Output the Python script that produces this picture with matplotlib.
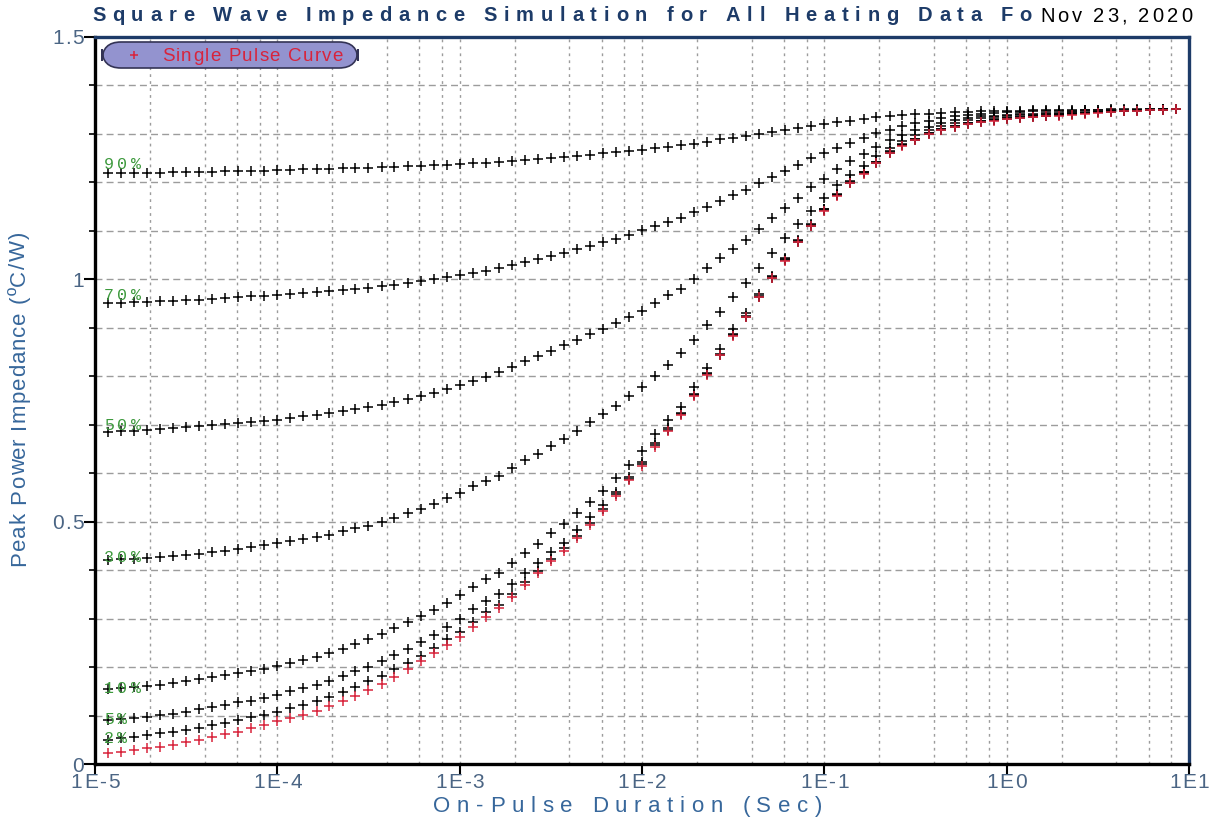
import matplotlib
matplotlib.use("Agg")
import matplotlib.pyplot as plt
from matplotlib import font_manager, ft2font
from matplotlib.font_manager import FontProperties
from matplotlib.patches import FancyBboxPatch
from matplotlib.lines import Line2D
from matplotlib.ticker import FixedLocator, NullLocator, NullFormatter

W, H, DPI = 1219, 821, 100

# ---------------------------------------------------------------- data
durations = [
    1.18e-5, 1.39e-5, 1.64e-5, 1.93e-5, 2.28e-5, 2.68e-5, 3.16e-5, 3.73e-5, 4.39e-5, 5.18e-5, 6.11e-5, 7.20e-5, 8.48e-5, 1.00e-4,
    1.18e-4, 1.39e-4, 1.64e-4, 1.93e-4, 2.28e-4, 2.68e-4, 3.16e-4, 3.73e-4, 4.39e-4, 5.18e-4, 6.11e-4, 7.20e-4, 8.48e-4, 1.00e-3,
    1.18e-3, 1.39e-3, 1.64e-3, 1.93e-3, 2.28e-3, 2.68e-3, 3.16e-3, 3.73e-3, 4.39e-3, 5.18e-3, 6.11e-3, 7.20e-3, 8.48e-3, 1.00e-2,
    1.18e-2, 1.39e-2, 1.64e-2, 1.93e-2, 2.28e-2, 2.68e-2, 3.16e-2, 3.73e-2, 4.39e-2, 5.18e-2, 6.11e-2, 7.20e-2, 8.48e-2, 1.00e-1,
    1.18e-1, 1.39e-1, 1.64e-1, 1.93e-1, 2.28e-1, 2.68e-1, 3.16e-1, 3.73e-1, 4.39e-1, 5.18e-1, 6.11e-1, 7.20e-1, 8.48e-1, 1.00e0,
    1.18e0, 1.39e0, 1.64e0, 1.93e0, 2.28e0, 2.68e0, 3.16e0, 3.73e0, 4.39e0, 5.18e0, 6.11e0, 7.20e0, 8.48e0,
]

single_pulse = [
    0.022, 0.025, 0.028, 0.032, 0.036, 0.040, 0.045, 0.050, 0.055, 0.061, 0.067, 0.074, 0.081, 0.088,
    0.095, 0.102, 0.110, 0.119, 0.129, 0.140, 0.152, 0.165, 0.180, 0.196, 0.212, 0.229, 0.246, 0.263,
    0.283, 0.304, 0.322, 0.345, 0.369, 0.394, 0.418, 0.440, 0.466, 0.493, 0.522, 0.552, 0.585, 0.615,
    0.655, 0.688, 0.720, 0.759, 0.803, 0.843, 0.884, 0.922, 0.963, 1.002, 1.038, 1.076, 1.110, 1.142,
    1.172, 1.198, 1.218, 1.239, 1.260, 1.276, 1.287, 1.299, 1.308, 1.314, 1.320, 1.324, 1.327, 1.330,
    1.332, 1.334, 1.336, 1.338, 1.340, 1.342, 1.344, 1.346, 1.347, 1.348, 1.349, 1.350, 1.351,
]

duty_2 = [
    0.050, 0.053, 0.056, 0.059, 0.063, 0.067, 0.070, 0.075, 0.080, 0.085, 0.091, 0.096, 0.101, 0.108,
    0.115, 0.122, 0.129, 0.138, 0.149, 0.159, 0.171, 0.182, 0.195, 0.208, 0.223, 0.239, 0.257, 0.273,
    0.294, 0.313, 0.329, 0.351, 0.376, 0.399, 0.423, 0.445, 0.471, 0.498, 0.527, 0.557, 0.589, 0.619,
    0.658, 0.690, 0.722, 0.761, 0.804, 0.844, 0.885, 0.923, 0.964, 1.003, 1.039, 1.077, 1.111, 1.143,
    1.173, 1.199, 1.219, 1.240, 1.261, 1.277, 1.288, 1.300, 1.309, 1.315, 1.321, 1.325, 1.328, 1.331,
    1.333, 1.335, 1.337, 1.339, 1.341, 1.343, 1.345, 1.347, 1.348, 1.349, 1.350, 1.351, 1.352,
]

duty_5 = [
    0.090, 0.092, 0.095, 0.098, 0.101, 0.104, 0.108, 0.113, 0.118, 0.122, 0.127, 0.131, 0.136, 0.143,
    0.151, 0.156, 0.162, 0.172, 0.182, 0.191, 0.201, 0.212, 0.225, 0.237, 0.252, 0.267, 0.283, 0.299,
    0.319, 0.336, 0.351, 0.371, 0.395, 0.414, 0.438, 0.457, 0.483, 0.510, 0.534, 0.562, 0.593, 0.624,
    0.662, 0.694, 0.725, 0.763, 0.806, 0.846, 0.887, 0.925, 0.966, 1.005, 1.041, 1.079, 1.113, 1.145,
    1.175, 1.201, 1.221, 1.242, 1.263, 1.278, 1.289, 1.301, 1.310, 1.316, 1.322, 1.326, 1.329, 1.332,
    1.334, 1.336, 1.338, 1.340, 1.342, 1.344, 1.346, 1.347, 1.348, 1.349, 1.350, 1.351, 1.352,
]

duty_10 = [
    0.155, 0.156, 0.158, 0.161, 0.164, 0.168, 0.172, 0.175, 0.179, 0.183, 0.188, 0.192, 0.197, 0.203,
    0.209, 0.215, 0.221, 0.228, 0.237, 0.247, 0.257, 0.268, 0.280, 0.292, 0.305, 0.318, 0.332, 0.349,
    0.366, 0.381, 0.395, 0.415, 0.436, 0.454, 0.476, 0.495, 0.517, 0.541, 0.563, 0.591, 0.617, 0.646,
    0.681, 0.710, 0.737, 0.777, 0.818, 0.856, 0.897, 0.931, 0.970, 1.007, 1.043, 1.081, 1.115, 1.146,
    1.176, 1.202, 1.222, 1.243, 1.264, 1.279, 1.290, 1.302, 1.311, 1.317, 1.323, 1.327, 1.330, 1.333,
    1.335, 1.337, 1.339, 1.341, 1.342, 1.344, 1.346, 1.347, 1.348, 1.349, 1.350, 1.351, 1.352,
]

duty_30 = [
    0.421, 0.422, 0.423, 0.425, 0.427, 0.429, 0.431, 0.434, 0.437, 0.440, 0.444, 0.448, 0.452, 0.456,
    0.461, 0.464, 0.468, 0.473, 0.480, 0.486, 0.492, 0.500, 0.508, 0.517, 0.526, 0.536, 0.548, 0.559,
    0.573, 0.584, 0.595, 0.610, 0.627, 0.640, 0.656, 0.670, 0.688, 0.705, 0.722, 0.739, 0.759, 0.778,
    0.800, 0.823, 0.847, 0.875, 0.906, 0.933, 0.964, 0.992, 1.023, 1.055, 1.085, 1.114, 1.140, 1.167,
    1.195, 1.215, 1.234, 1.254, 1.270, 1.286, 1.298, 1.308, 1.316, 1.322, 1.328, 1.332, 1.335, 1.337,
    1.339, 1.340, 1.341, 1.342, 1.343, 1.344, 1.345, 1.346, 1.347, 1.348, 1.349, 1.350, 1.351,
]

duty_50 = [
    0.686, 0.687, 0.688, 0.689, 0.691, 0.693, 0.695, 0.697, 0.699, 0.701, 0.703, 0.705, 0.707, 0.710,
    0.714, 0.717, 0.720, 0.724, 0.728, 0.732, 0.736, 0.741, 0.747, 0.753, 0.759, 0.766, 0.774, 0.781,
    0.791, 0.799, 0.809, 0.820, 0.831, 0.842, 0.853, 0.864, 0.875, 0.887, 0.898, 0.910, 0.923, 0.935,
    0.952, 0.968, 0.981, 1.000, 1.023, 1.043, 1.062, 1.081, 1.104, 1.126, 1.148, 1.167, 1.190, 1.208,
    1.228, 1.245, 1.258, 1.274, 1.287, 1.298, 1.308, 1.314, 1.322, 1.328, 1.332, 1.336, 1.338, 1.340,
    1.341, 1.342, 1.343, 1.344, 1.345, 1.346, 1.346, 1.347, 1.348, 1.349, 1.350, 1.350, 1.351,
]

duty_70 = [
    0.952, 0.952, 0.953, 0.954, 0.955, 0.956, 0.957, 0.958, 0.959, 0.961, 0.963, 0.965, 0.966, 0.968,
    0.970, 0.972, 0.973, 0.975, 0.977, 0.980, 0.983, 0.986, 0.989, 0.992, 0.996, 1.000, 1.004, 1.009,
    1.014, 1.018, 1.023, 1.029, 1.035, 1.042, 1.049, 1.055, 1.062, 1.069, 1.076, 1.084, 1.092, 1.101,
    1.110, 1.119, 1.127, 1.138, 1.150, 1.162, 1.174, 1.184, 1.199, 1.212, 1.223, 1.236, 1.250, 1.260,
    1.272, 1.282, 1.292, 1.301, 1.309, 1.316, 1.323, 1.327, 1.333, 1.337, 1.340, 1.342, 1.344, 1.345,
    1.346, 1.347, 1.347, 1.348, 1.348, 1.349, 1.349, 1.350, 1.350, 1.350, 1.351, 1.351, 1.352,
]

duty_90 = [
    1.219, 1.219, 1.220, 1.220, 1.220, 1.221, 1.221, 1.222, 1.222, 1.223, 1.223, 1.224, 1.224, 1.225,
    1.226, 1.227, 1.228, 1.228, 1.229, 1.230, 1.230, 1.231, 1.232, 1.233, 1.234, 1.235, 1.236, 1.238,
    1.240, 1.241, 1.243, 1.245, 1.247, 1.249, 1.250, 1.252, 1.255, 1.257, 1.260, 1.262, 1.265, 1.267,
    1.271, 1.274, 1.277, 1.280, 1.284, 1.289, 1.292, 1.296, 1.300, 1.303, 1.308, 1.312, 1.316, 1.320,
    1.324, 1.327, 1.330, 1.334, 1.337, 1.339, 1.341, 1.342, 1.344, 1.345, 1.346, 1.347, 1.347, 1.348,
    1.348, 1.349, 1.349, 1.349, 1.350, 1.350, 1.350, 1.351, 1.351, 1.351, 1.351, 1.352, 1.352,
]

duty_labels = ["90%", "70%", "50%", "30%", "10%", "5%", "2%"]
duty_series = [duty_90, duty_70, duty_50, duty_30, duty_10, duty_5, duty_2]

x_tick_values = [1e-5, 1e-4, 1e-3, 1e-2, 1e-1, 1e0, 1e1]
x_tick_labels = ["1E-5", "1E-4", "1E-3", "1E-2", "1E-1", "1E0", "1E1"]
y_tick_values = [0, 0.5, 1, 1.5]
y_tick_labels = ["0", "0.5", "1", "1.5"]

title_text = "Square Wave Impedance Simulation for All Heating Data Fo"
date_text = "Nov 23, 2020"
x_label = "On-Pulse Duration (Sec)"
y_label = "Peak Power Impedance (\u00baC/W)"
legend_label = "Single Pulse Curve"

# ---------------------------------------------------------------- colours
NAVY = "#1d3b68"
AXIS_BLUE = "#37679b"
TICK_COLOR = "#4b6584"
GRID = "#9c9c9c"
RED = "#d8243c"
GREEN = "#3d9a3d"

# ---------------------------------------------------------------- helpers
_fonts = {}


def advances(text, family, size, weight):
    key = (family, weight)
    if key not in _fonts:
        path = font_manager.findfont(FontProperties(family=family, weight=weight))
        _fonts[key] = ft2font.FT2Font(path)
    font = _fonts[key]
    font.set_size(size, DPI)
    return [font.load_char(ord(c)).linearHoriAdvance / 65536.0 for c in text]


def tracked(fig, text, x, y_top, size, color, family="Liberation Sans",
            weight="normal", tracking=0.0, span=None, align="left",
            vertical=False, zorder=5):
    """Draw letter-spaced text; x / y_top are pixel positions of the baseline."""
    adv = advances(text, family, size, weight)
    if span is not None and len(text) > 1:
        tracking = (span - sum(adv)) / (len(text) - 1)
    total = sum(adv) + tracking * (len(text) - 1)
    start = {"left": 0.0, "center": -total / 2.0, "right": -total}[align]
    pos = start
    for ch, a in zip(text, adv):
        if not ch.isspace():
            if vertical:
                px, py = x, (H - y_top) + pos
            else:
                px, py = x + pos, H - y_top
            fig.text(px / W, py / H, ch, fontsize=size, color=color,
                     family=family, weight=weight, ha="left", va="baseline",
                     rotation=90 if vertical else 0, rotation_mode="anchor",
                     zorder=zorder)
        pos += a + tracking
    return tracking


# ---------------------------------------------------------------- figure
fig = plt.figure(figsize=(W / DPI, H / DPI), dpi=DPI, facecolor="white")
ax_left, ax_right, ax_top, ax_bottom = 95, 1189, 37, 764
ax = fig.add_axes([ax_left / W, (H - ax_bottom) / H,
                   (ax_right - ax_left) / W, (ax_bottom - ax_top) / H])
ax.set_xscale("log")
ax.set_xlim(1e-5, 1e1)
ax.set_ylim(0, 1.5)

# grid: dashed horizontals every 0.1, dotted verticals at 2,4,6,8 and decades
for i in range(1, 15):
    ax.axhline(i / 10.0, color=GRID, lw=1.0, ls=(0, (5, 3)), zorder=1)
for d in range(-5, 1):
    for m in (2, 4, 6, 8):
        ax.axvline(m * 10.0 ** d, color=GRID, lw=1.0, ls=(0, (2, 3)), zorder=1)
    if d > -5:
        ax.axvline(10.0 ** d, color=GRID, lw=1.0, ls=(0, (2, 3)), zorder=1)

# curves
for series in duty_series:
    ax.plot(durations, series, ls="none", marker="+", ms=6.5, mew=1.1,
            color="black", zorder=3)
ax.plot(durations, single_pulse, ls="none", marker="+", ms=6.5, mew=1.1,
        color=RED, zorder=4)

# spines and ticks
for side in ("left", "bottom"):
    ax.spines[side].set_color("black")
    ax.spines[side].set_linewidth(2.4)
for side in ("top", "right"):
    ax.spines[side].set_color(NAVY)
    ax.spines[side].set_linewidth(2.4)

ax.xaxis.set_major_locator(FixedLocator(x_tick_values))
ax.xaxis.set_minor_locator(NullLocator())
ax.yaxis.set_major_locator(FixedLocator(y_tick_values))
ax.yaxis.set_minor_locator(FixedLocator([i / 10.0 for i in range(16)]))
ax.xaxis.set_major_formatter(NullFormatter())
ax.yaxis.set_major_formatter(NullFormatter())
ax.yaxis.set_minor_formatter(NullFormatter())
ax.tick_params(axis="both", which="major", direction="out", length=8,
               width=1.5, color="black")
ax.tick_params(axis="y", which="minor", direction="out", length=4,
               width=1.2, color="black")
ax.tick_params(top=False, right=False)

fig.canvas.draw()
to_px = ax.transData.transform

# tick labels
TICK_SIZE = 15.0
for v, lab in zip(x_tick_values, x_tick_labels):
    px = to_px((v, 0.5))[0]
    tracked(fig, lab, px, 788, TICK_SIZE, TICK_COLOR, tracking=1.5, align="center")
for v, lab in zip(y_tick_values, y_tick_labels):
    py = H - to_px((1e-3, v))[1]
    tracked(fig, lab, 84, py + 7.5, TICK_SIZE, TICK_COLOR, tracking=1.5, align="right")

# axis titles
tracked(fig, x_label, 433, 812, 16.0, AXIS_BLUE, span=389)
tracked(fig, y_label, 25, 566, 16.0, AXIS_BLUE, span=334, vertical=True)

# chart title, with the date set right after it
TITLE_SIZE = 14.5
tracked(fig, title_text, 92, 21, TITLE_SIZE, NAVY, weight="bold", span=940)
tracked(fig, date_text, 1192, 22, 14.5, "black", align="right", span=152)

# duty-cycle labels next to the first point of each curve
label_rise = [10, 9, 7.5, 4, 2, 2.4, 2.8]
for lab, series, rise in zip(duty_labels, duty_series, label_rise):
    px, py = to_px((durations[0], series[0]))
    tracked(fig, lab, 104, (H - py) - rise + 6, 12.0, GREEN,
            family="Liberation Mono", tracking=3.5)

# legend capsule
box = FancyBboxPatch((102 / W, (H - 68) / H), (358 - 102) / W, 26 / H,
                     boxstyle="round,pad=0,rounding_size=0.0155",
                     transform=fig.transFigure, facecolor="#9393cf",
                     edgecolor="#333355", lw=1.2, zorder=6,
                     mutation_aspect=W / H)
fig.patches.append(box)
fig.lines.append(Line2D([134 / W], [(H - 55) / H], marker="+", ms=6, mew=1.1,
                        color=RED, transform=fig.transFigure, zorder=7))
tracked(fig, legend_label, 162, 61, 13.5, RED, span=181, zorder=7)

fig.savefig("out.png", dpi=DPI, facecolor="white")
